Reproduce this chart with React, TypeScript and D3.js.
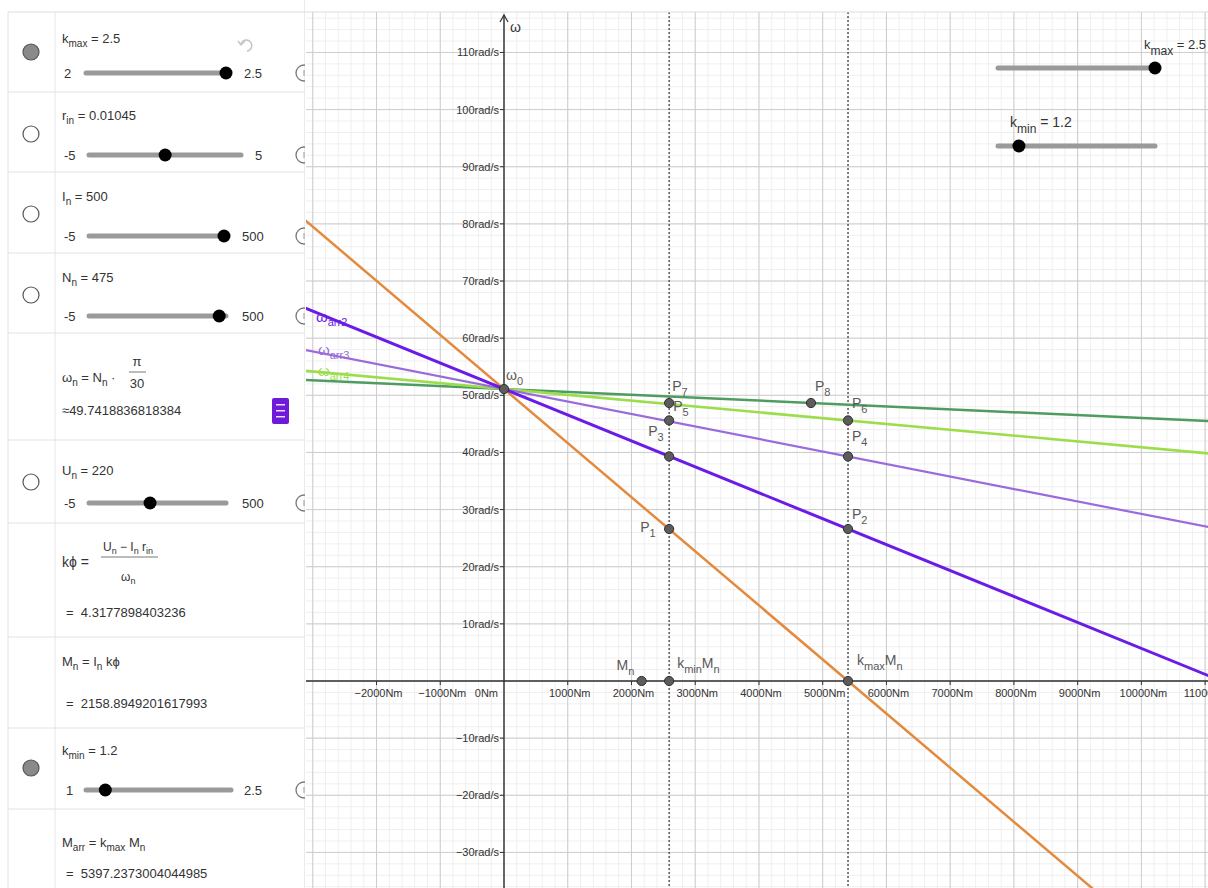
import React from "react";
import * as d3 from "d3";

const W = 1208;
const H = 888;

// axis ticks
const torqueTicks = [-2000, -1000, 0, 1000, 2000, 3000, 4000, 5000, 6000, 7000, 8000, 9000, 10000, 11000];
const speedTicks = [-30, -20, -10, 10, 20, 30, 40, 50, 60, 70, 80, 90, 100, 110];

// points (torque in Nm, speed in rad/s)
const pointNames = ["ω0", "P1", "P2", "P3", "P4", "P5", "P6", "P7", "P8", "Mn", "kminMn", "kmaxMn"];
const pointTorque = [0, 2590.7, 5397.2, 2590.7, 5397.2, 2590.7, 5397.2, 2590.7, 4816, 2158.9, 2590.7, 5397.2];
const pointSpeed = [51.1, 26.6, 26.6, 39.3, 39.3, 45.6, 45.6, 48.65, 48.65, 0, 0, 0];

// lines: all pass through ω0 and a second point
const lineNames = ["ωarr1", "ωnat", "ωarr4", "ωarr3", "ωarr2"];
const lineThroughPoint = ["kmaxMn", "P8", "P6", "P4", "P2"];

// dashed verticals
const verticalTorque = [2590.7, 5397.2];

// sliders in the algebra panel
const sliderNames = ["kmax", "rin", "In", "Nn", "Un", "kmin"];
const sliderMin = [2, -5, -5, -5, -5, 1];
const sliderMax = [2.5, 5, 500, 500, 500, 2.5];
const sliderValue = [2.5, 0.01045, 500, 475, 220, 1.2];

// ---------- styles (kept separate from data) ----------
const lineStyle: Record<string, { color: string; width: number }> = {
  ωarr1: { color: "#E38A3E", width: 2.5 },
  ωnat: { color: "#4F9C60", width: 2.5 },
  ωarr4: { color: "#9CDD4C", width: 2.6 },
  ωarr3: { color: "#9A6BDB", width: 2.2 },
  ωarr2: { color: "#6A1BE6", width: 3 },
};

const labelOffset: Record<string, [number, number]> = {
  ω0: [2, -9],
  P1: [-29, 3],
  P2: [4, -10],
  P3: [-21, -20],
  P4: [4, -15],
  P5: [4, -9],
  P6: [4, -12],
  P7: [3, -12],
  P8: [4, -12],
  Mn: [-25, -11],
  kminMn: [8, -13],
  kmaxMn: [9, -16],
};

const labelSegs: Record<string, [string, boolean?][]> = {
  ω0: [["ω"], ["0", true]],
  P1: [["P"], ["1", true]],
  P2: [["P"], ["2", true]],
  P3: [["P"], ["3", true]],
  P4: [["P"], ["4", true]],
  P5: [["P"], ["5", true]],
  P6: [["P"], ["6", true]],
  P7: [["P"], ["7", true]],
  P8: [["P"], ["8", true]],
  Mn: [["M"], ["n", true]],
  kminMn: [["k"], ["min", true], ["M"], ["n", true]],
  kmaxMn: [["k"], ["max", true], ["M"], ["n", true]],
};

const FONT = "'Liberation Sans', Arial, sans-serif";

type Seg = [string, boolean?];
function Rich({
  x,
  y,
  segs,
  size = 13,
  fill = "#333",
  anchor = "start",
  subSize,
  shift,
}: {
  x: number;
  y: number;
  segs: Seg[];
  size?: number;
  fill?: string;
  anchor?: string;
  subSize?: number;
  shift?: number;
}) {
  const ss = subSize ?? Math.round(size * 0.75);
  const sh = shift ?? Math.round(size * 0.32);
  let cur = 0;
  return (
    <text x={x} y={y} fontSize={size} fill={fill} textAnchor={anchor as any} fontFamily={FONT}>
      {segs.map(([t, sub], i) => {
        const target = sub ? sh : 0;
        const dy = target - cur;
        cur = target;
        return (
          <tspan key={i} dy={dy} fontSize={sub ? ss : size}>
            {t}
          </tspan>
        );
      })}
    </text>
  );
}

function PanelSlider({ idx, y, x0, x1, minX, maxX }: { idx: number; y: number; x0: number; x1: number; minX: number; maxX: number }) {
  const s = d3.scaleLinear().domain([sliderMin[idx], sliderMax[idx]]).range([x0, x1]);
  const fmt = (v: number) => String(v);
  return (
    <g>
      <text x={minX} y={y + 5} fontSize={13} fill="#333" fontFamily={FONT}>
        {fmt(sliderMin[idx])}
      </text>
      <line x1={x0} x2={x1} y1={y} y2={y} stroke="#9a9a9a" strokeWidth={5} strokeLinecap="round" />
      <circle cx={s(sliderValue[idx])} cy={y} r={6.5} fill="#000" />
      <text x={maxX} y={y + 5} fontSize={13} fill="#333" fontFamily={FONT}>
        {fmt(sliderMax[idx])}
      </text>
      <circle cx={304} cy={y} r={8} fill="none" stroke="#777" strokeWidth={1.3} />
      <line x1={304} x2={304} y1={y - 3} y2={y + 3} stroke="#999" strokeWidth={1} />
    </g>
  );
}

function Toggle({ y, filled }: { y: number; filled: boolean }) {
  return <circle cx={31} cy={y} r={8} fill={filled ? "#8a8a8a" : "#fff"} stroke="#555" strokeWidth={1.2} />;
}

export default function App() {
  const x = d3.scaleLinear().domain([0, 10000]).range([504, 1141.4]);
  const y = d3.scaleLinear().domain([0, 100]).range([681, 109.6]);

  const gx0 = 306;
  const gy0 = 12;
  const mDomain = [x.invert(gx0 - 5), x.invert(W + 5)];
  const wDomain = [y.invert(H + 5), y.invert(gy0 - 5)];

  const minorX = d3.range(Math.ceil(mDomain[0] / 200) * 200, mDomain[1], 200);
  const minorY = d3.range(Math.ceil(wDomain[0] / 2) * 2, wDomain[1], 2);
  const majorX = minorX.filter((v) => Math.abs(v % 1000) < 1e-6);
  const majorY = minorY.filter((v) => Math.abs(v % 10) < 1e-6);

  const pIdx = (n: string) => pointNames.indexOf(n);
  const w0 = pointSpeed[pIdx("ω0")];
  const m0 = pointTorque[pIdx("ω0")];

  const lineGen = d3
    .line<[number, number]>()
    .x((d) => x(d[0]))
    .y((d) => y(d[1]));

  const fmtNeg = (v: number) => (v < 0 ? "\u2212" + Math.abs(v) : String(v));

  const gSlider = d3.scaleLinear().range([998, 1155]);

  return (
    <div style={{ position: "fixed", left: 0, top: 0, width: W, height: H, background: "#fff" }}>
      <svg width={W} height={H} style={{ display: "block" }} fontFamily={FONT}>
        <defs>
          <clipPath id="graphClip">
            <rect x={gx0} y={gy0} width={W - gx0} height={H - gy0} />
          </clipPath>
          <clipPath id="panelClip">
            <rect x={0} y={0} width={305} height={H} />
          </clipPath>
        </defs>
        <rect x={0} y={0} width={W} height={H} fill="#fff" />

        {/* ---------- graphics view ---------- */}
        <g clipPath="url(#graphClip)">
          {minorX.map((v) => (
            <line key={"mx" + v} x1={x(v)} x2={x(v)} y1={gy0} y2={H} stroke="#efefef" strokeWidth={1} />
          ))}
          {minorY.map((v) => (
            <line key={"my" + v} x1={gx0} x2={W} y1={y(v)} y2={y(v)} stroke="#efefef" strokeWidth={1} />
          ))}
          {majorX.map((v) => (
            <line key={"Mx" + v} x1={x(v)} x2={x(v)} y1={gy0} y2={H} stroke="#cdcdcd" strokeWidth={1} />
          ))}
          {majorY.map((v) => (
            <line key={"My" + v} x1={gx0} x2={W} y1={y(v)} y2={y(v)} stroke="#cdcdcd" strokeWidth={1} />
          ))}

          {/* axes */}
          <line x1={gx0} x2={W} y1={y(0)} y2={y(0)} stroke="#333" strokeWidth={1.4} />
          <line x1={x(0)} x2={x(0)} y1={H} y2={gy0 + 3} stroke="#333" strokeWidth={1.4} />
          <path d={`M${x(0) - 4},${gy0 + 10} L${x(0)},${gy0 + 3} L${x(0) + 4},${gy0 + 10}`} fill="none" stroke="#333" strokeWidth={1.2} />
          <text x={x(0) + 6} y={gy0 + 20} fontSize={14} fill="#333">
            ω
          </text>

          {torqueTicks
            .filter((v) => v !== 0)
            .map((v) => (
              <g key={"xt" + v}>
                <line x1={x(v)} x2={x(v)} y1={y(0)} y2={y(0) + 4} stroke="#333" strokeWidth={1} />
                <text x={x(v) + 2} y={y(0) + 16} fontSize={11} fill="#333" textAnchor="middle">
                  {fmtNeg(v) + "Nm"}
                </text>
              </g>
            ))}
          <text x={x(0) - 6} y={y(0) + 16} fontSize={11} fill="#333" textAnchor="end">
            0Nm
          </text>
          {speedTicks.map((v) => (
            <g key={"yt" + v}>
              <line x1={x(0) - 4} x2={x(0)} y1={y(v)} y2={y(v)} stroke="#333" strokeWidth={1} />
              <text x={x(0) - 5} y={y(v) + 4} fontSize={11} fill="#333" textAnchor="end">
                {fmtNeg(v) + "rad/s"}
              </text>
            </g>
          ))}

          {/* dashed verticals */}
          {verticalTorque.map((v) => (
            <line key={"dv" + v} x1={x(v)} x2={x(v)} y1={gy0} y2={H} stroke="#333" strokeWidth={1.2} strokeDasharray="2,2" />
          ))}

          {/* characteristic lines */}
          {lineNames.map((name, i) => {
            const p = pIdx(lineThroughPoint[i]);
            const slope = (pointSpeed[p] - w0) / (pointTorque[p] - m0);
            const pts: [number, number][] = [
              [mDomain[0], w0 + slope * (mDomain[0] - m0)],
              [mDomain[1], w0 + slope * (mDomain[1] - m0)],
            ];
            const st = lineStyle[name];
            return <path key={name} d={lineGen(pts) || ""} fill="none" stroke={st.color} strokeWidth={st.width} />;
          })}

          {/* line labels */}
          <Rich x={316} y={322} segs={[["ω"], ["arr2", true]]} size={15} fill={lineStyle.ωarr2.color} subSize={11} shift={4} />
          <Rich x={318} y={355} segs={[["ω"], ["arr3", true]]} size={15} fill={lineStyle.ωarr3.color} subSize={11} shift={4} />
          <Rich x={318} y={376} segs={[["ω"], ["arr4", true]]} size={15} fill={lineStyle.ωarr4.color} subSize={11} shift={4} />

          {/* points */}
          {pointNames.map((n, i) => (
            <circle key={"pt" + n} cx={x(pointTorque[i])} cy={y(pointSpeed[i])} r={4.6} fill="#5c5c5c" stroke="#2f2f2f" strokeWidth={1} />
          ))}
          {pointNames.map((n, i) => {
            const [dx, dy] = labelOffset[n];
            return (
              <Rich
                key={"pl" + n}
                x={x(pointTorque[i]) + dx}
                y={y(pointSpeed[i]) + dy}
                segs={labelSegs[n]}
                size={14}
                fill="#585858"
                subSize={11}
                shift={5}
              />
            );
          })}

          {/* sliders inside graphics view */}
          {(() => {
            const kmaxS = gSlider.copy().domain([sliderMin[0], sliderMax[0]]);
            const kminS = gSlider.copy().domain([sliderMin[5], sliderMax[5]]);
            return (
              <g>
                <line x1={998} x2={1155} y1={68} y2={68} stroke="#9a9a9a" strokeWidth={5} strokeLinecap="round" />
                <circle cx={kmaxS(sliderValue[0])} cy={68} r={6.5} fill="#000" />
                <Rich x={1144} y={49} segs={[["k"], ["max", true], [" = 2.5"]]} size={13} fill="#333" subSize={12} shift={6} />
                <line x1={998} x2={1155} y1={146} y2={146} stroke="#9a9a9a" strokeWidth={5} strokeLinecap="round" />
                <circle cx={kminS(sliderValue[5])} cy={146} r={6.5} fill="#000" />
                <Rich x={1010} y={127} segs={[["k"], ["min", true], [" = 1.2"]]} size={14} fill="#333" subSize={12} shift={6} />
              </g>
            );
          })()}
        </g>
        <line x1={305} x2={W} y1={gy0} y2={gy0} stroke="#dcdcdc" strokeWidth={1} />

        {/* ---------- algebra panel ---------- */}
        <g clipPath="url(#panelClip)">
          <rect x={0} y={0} width={305} height={H} fill="#fff" />
          <line x1={8} x2={305} y1={12} y2={12} stroke="#dcdcdc" />
          <line x1={8} x2={8} y1={12} y2={H} stroke="#e2e2e2" />
          <line x1={55} x2={55} y1={12} y2={H} stroke="#e6e6e6" />
          <line x1={305} x2={305} y1={0} y2={H} stroke="#d6d6d6" />
          {[92, 172, 253, 333, 440, 523, 637, 728, 809].map((yy) => (
            <line key={"sep" + yy} x1={8} x2={305} y1={yy} y2={yy} stroke="#e2e2e2" strokeWidth={1} />
          ))}

          {/* row 1: kmax */}
          <Toggle y={52} filled={true} />
          <Rich x={62} y={43} segs={[["k"], ["max", true], [" = 2.5"]]} />
          <path d="M241,44 a5.5,5.5 0 1 1 6,7" fill="none" stroke="#c4c4c4" strokeWidth={1.6} />
          <path d="M238,41 L241,45 L245,41" fill="none" stroke="#c4c4c4" strokeWidth={1.4} />
          <PanelSlider idx={0} y={73} x0={86} x1={226} minX={64} maxX={244} />

          {/* row 2: rin */}
          <Toggle y={134} filled={false} />
          <Rich x={62} y={120} segs={[["r"], ["in", true], [" = 0.01045"]]} />
          <PanelSlider idx={1} y={155} x0={89} x1={241} minX={64} maxX={255} />

          {/* row 3: In */}
          <Toggle y={214} filled={false} />
          <Rich x={62} y={201} segs={[["I"], ["n", true], [" = 500"]]} />
          <PanelSlider idx={2} y={236} x0={89} x1={224} minX={64} maxX={242} />

          {/* row 4: Nn */}
          <Toggle y={295} filled={false} />
          <Rich x={62} y={282} segs={[["N"], ["n", true], [" = 475"]]} />
          <PanelSlider idx={3} y={316} x0={89} x1={226} minX={64} maxX={242} />

          {/* row 5: ωn */}
          <Rich x={62} y={382} segs={[["ω"], ["n", true], [" = N"], ["n", true], [" · "]]} />
          <text x={137} y={366} fontSize={13} fill="#333" textAnchor="middle">
            π
          </text>
          <line x1={129} x2={146} y1={372} y2={372} stroke="#555" strokeWidth={0.8} />
          <text x={137} y={388} fontSize={13} fill="#333" textAnchor="middle">
            30
          </text>
          <text x={62} y={415} fontSize={13} fill="#333">
            ≈49.7418836818384
          </text>
          <rect x={272} y={398} width={17} height={26} rx={2} fill="#6D1BD8" />
          <rect x={276} y={404} width={9} height={1.5} fill="#fff" opacity={0.85} />
          <rect x={276} y={410} width={9} height={1.5} fill="#fff" opacity={0.85} />
          <rect x={276} y={416} width={9} height={1.5} fill="#fff" opacity={0.85} />

          {/* row 6: Un */}
          <Toggle y={482} filled={false} />
          <Rich x={62} y={475} segs={[["U"], ["n", true], [" = 220"]]} />
          <PanelSlider idx={4} y={503} x0={89} x1={226} minX={64} maxX={242} />

          {/* row 7: kϕ */}
          <text x={62} y={567} fontSize={14} fill="#333">
            kϕ =
          </text>
          <Rich x={103} y={551} segs={[["U"], ["n", true], [" − I"], ["n", true], [" r"], ["in", true]]} size={12} subSize={9} shift={3} />
          <line x1={101} x2={158} y1={557} y2={557} stroke="#555" strokeWidth={0.8} />
          <Rich x={121} y={581} segs={[["ω"], ["n", true]]} size={12} subSize={9} shift={3} />
          <text x={66} y={617} fontSize={13} fill="#333" xmlSpace="preserve">
            {"=  4.3177898403236"}
          </text>

          {/* row 8: Mn */}
          <Rich x={62} y={666} segs={[["M"], ["n", true], [" = I"], ["n", true], [" kϕ"]]} />
          <text x={66} y={708} fontSize={13} fill="#333" xmlSpace="preserve">
            {"=  2158.8949201617993"}
          </text>

          {/* row 9: kmin */}
          <Toggle y={768} filled={true} />
          <Rich x={62} y={755} segs={[["k"], ["min", true], [" = 1.2"]]} />
          <PanelSlider idx={5} y={790} x0={86} x1={231} minX={66} maxX={244} />

          {/* row 10: Marr */}
          <Rich x={62} y={847} segs={[["M"], ["arr", true], [" = k"], ["max", true], [" M"], ["n", true]]} />
          <text x={66} y={878} fontSize={13} fill="#333" xmlSpace="preserve">
            {"=  5397.2373004044985"}
          </text>
        </g>
      </svg>
    </div>
  );
}
